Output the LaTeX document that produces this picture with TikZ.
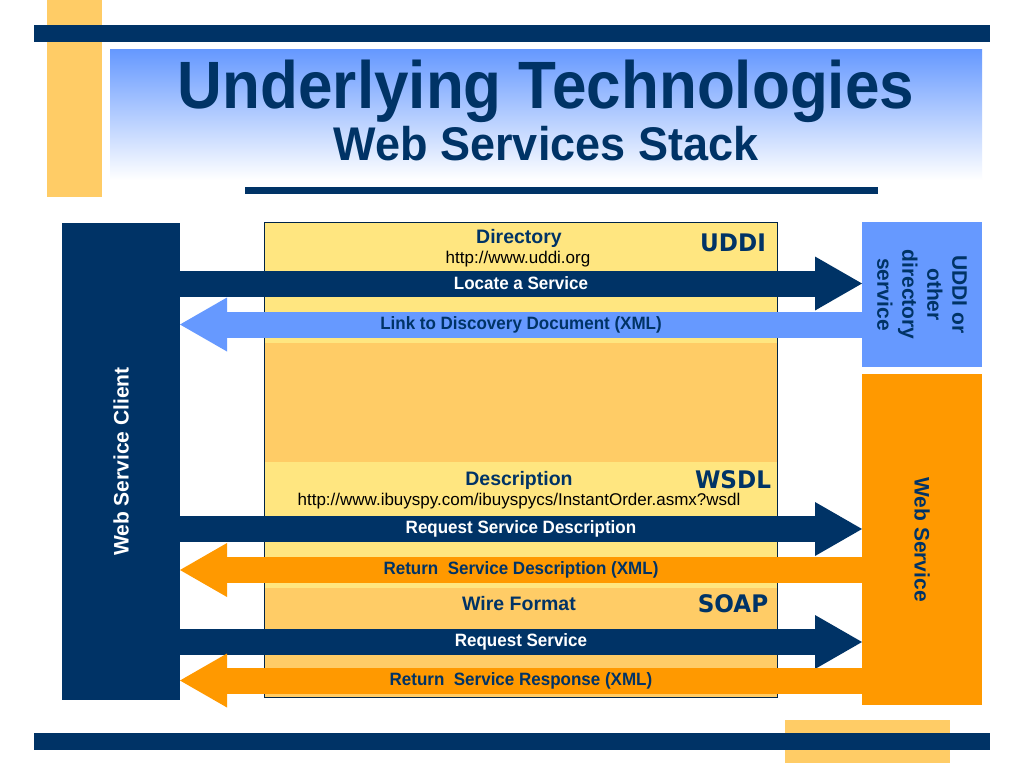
\documentclass[tikz,border=0pt]{standalone}
\usepackage{fontspec}
\setmainfont{Liberation Sans}
\newfontfamily\verd{DejaVu Sans}
\usetikzlibrary{arrows.meta}
\definecolor{navy}{HTML}{003366}
\definecolor{lblue}{HTML}{6699FF}
\definecolor{orng}{HTML}{FF9900}
\definecolor{gold}{HTML}{FFCC66}
\definecolor{lyel}{HTML}{FFE680}
\begin{document}
\begin{tikzpicture}[x=1pt,y=-1pt,
  box/.style={anchor=north west, inner sep=0pt, outer sep=0pt, draw=none},
  fatarrow/.style={line width=26pt, -{Triangle[width=54pt,length=47pt,line width=0pt]}},
  albl/.style={font=\fontsize{17}{19}\selectfont\bfseries, inner sep=0pt, yscale=1.05},
  layertitle/.style={font=\fontsize{19.5}{22}\selectfont\bfseries, text=navy, inner sep=0pt},
  url/.style={font=\fontsize{17}{19}\selectfont, text=black, inner sep=0pt},
  tech/.style={font=\verd\fontsize{22}{24}\selectfont\bfseries, text=navy, inner sep=0pt, xscale=1.05, yscale=1.1},
  sidetext/.style={font=\fontsize{21}{25}\selectfont\bfseries, inner sep=0pt, align=center}
]
\useasboundingbox (0,0) rectangle (1024,768);
\fill[white] (0,0) rectangle (1024,768);
% header decoration
\fill[gold] (47,0) rectangle (102,197);
\fill[navy] (34,25) rectangle (990,42);
\shade[top color=lblue, bottom color=white] (110,50) rectangle (982,180);
\node[font=\fontsize{62}{70}\selectfont\bfseries, text=navy, anchor=base, inner sep=0pt, yscale=1.08] (title) at (546,108) {Underlying Technologies};
\node[font=\fontsize{45}{50}\selectfont\bfseries, text=navy, anchor=base, inner sep=0pt, yscale=1.05] (subtitle) at (546,160) {Web Services Stack};
\fill[navy] (245,187) rectangle (878,194);
% footer decoration
\fill[gold] (785,720) rectangle (950,763);
\fill[navy] (34,733) rectangle (990,750);
% stack layers
\node[box, fill=lyel, minimum width=513pt, minimum height=121pt] (dir) at (264,222) {};
\node[box, fill=gold, minimum width=513pt, minimum height=119pt] (mid) at (264,343) {};
\node[box, fill=lyel, minimum width=513pt, minimum height=126pt] (desc) at (264,462) {};
\node[box, fill=gold, minimum width=513pt, minimum height=109pt] (wire) at (264,588) {};
\draw[navy!70!black, line width=1pt] (dir.north west) rectangle (wire.south east);
\node[layertitle] (dirt) at (519,238) {Directory};
\node[url] (diru) at (518,259) {http://www.uddi.org};
\node[tech] (uddit) at (733,243) {UDDI};
\node[layertitle] (desct) at (519,480) {Description};
\node[url] (descu) at (519,501) {http://www.ibuyspy.com/ibuyspycs/InstantOrder.asmx?wsdl};
\node[tech] (wsdlt) at (733,480) {WSDL};
\node[layertitle] (wiret) at (519,604) {Wire Format};
\node[tech] (soapt) at (733,604) {SOAP};
% side boxes
\node[box, fill=navy, minimum width=118pt, minimum height=477pt] (client) at (62,223) {};
\node[sidetext, text=white, rotate=90] (clientt) at (client.center) {Web Service Client};
\node[box, fill=lblue, minimum width=120pt, minimum height=145pt] (uddi) at (862,222) {};
\node[sidetext, text=navy, rotate=-90] (uddit2) at (uddi.center) {UDDI or\\other\\directory\\service};
\node[box, fill=orng, minimum width=120pt, minimum height=331pt] (ws) at (862,374) {};
\node[sidetext, text=navy, rotate=-90] (wst) at (ws.center) {Web Service};
% arrows
\draw[fatarrow, navy] (client.east |- 0,283.5) -- node[albl, text=white] (a1) {Locate a Service} (uddi.west |- 0,283.5);
\draw[fatarrow, lblue] (uddi.west |- 0,324.5) -- node[albl, text=navy] (a2) {Link to Discovery Document (XML)} (client.east |- 0,324.5);
\draw[fatarrow, navy] (client.east |- 0,529) -- node[albl, text=white] (a3) {Request Service Description} (ws.west |- 0,529);
\draw[fatarrow, orng] (ws.west |- 0,570) -- node[albl, text=navy] (a4) {Return\ \ Service Description (XML)} (client.east |- 0,570);
\draw[fatarrow, navy] (client.east |- 0,642) -- node[albl, text=white] (a5) {Request Service} (ws.west |- 0,642);
\draw[fatarrow, orng] (ws.west |- 0,680.5) -- node[albl, text=navy] (a6) {Return\ \ Service Response (XML)} (client.east |- 0,680.5);
\end{tikzpicture}
\end{document}
